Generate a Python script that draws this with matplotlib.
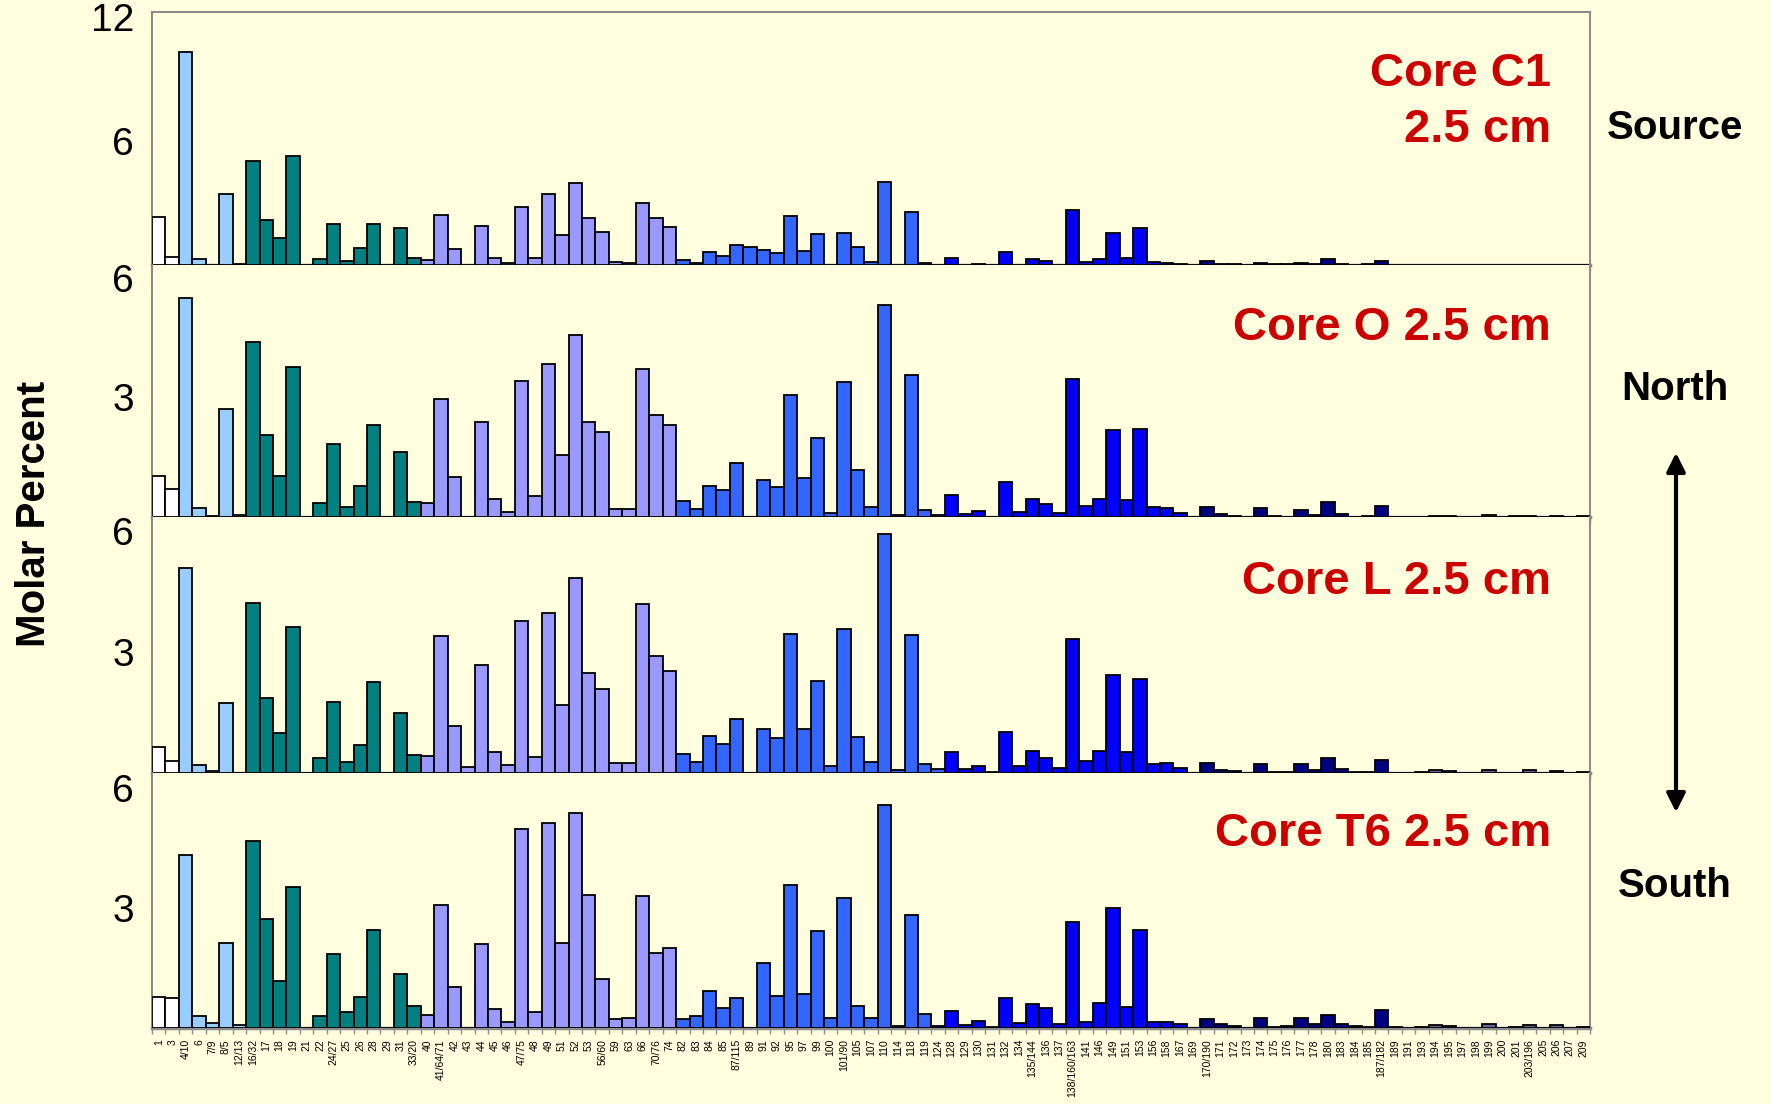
import numpy as np
import matplotlib
matplotlib.use("Agg")
import matplotlib.pyplot as plt
from matplotlib.patches import FancyArrowPatch

plt.rcParams["font.family"] = ["Liberation Sans", "DejaVu Sans"]

W, H = 1771, 1104
BG = "#FFFFE0"

congeners = [
    "1", "3",
    "4/10", "6", "7/9", "8/5", "12/13",
    "16/32", "17", "18", "19", "21", "22", "24/27", "25", "26", "28", "29", "31", "33/20",
    "40", "41/64/71", "42", "43", "44", "45", "46", "47/75", "48", "49", "51", "52", "53",
    "56/60", "59", "63", "66", "70/76", "74",
    "82", "83", "84", "85", "87/115", "89", "91", "92", "95", "97", "99", "100", "101/90",
    "105", "107", "110", "114", "118", "119", "124",
    "128", "129", "130", "131", "132", "134", "135/144", "136", "137", "138/160/163",
    "141", "146", "149", "151", "153", "156", "158", "167", "169",
    "170/190", "171", "172", "173", "174", "175", "176", "177", "178", "180", "183",
    "184", "185", "187/182", "189", "191", "193",
    "194", "195", "197", "198", "199", "200", "201", "203/196", "205",
    "206", "207",
    "209",
]

# number of congeners in each homolog group (mono ... deca) and their fills
homolog_sizes = [2, 5, 13, 19, 20, 19, 17, 9, 2, 1]
homolog_colors = ["#FFFFFF", "#99CCFF", "#008080", "#9999FF", "#3366FF",
                  "#0000FF", "#000080", "#666699", "#666699", "#000080"]

core_c1 = [
    2.34, 0.37,
    10.3, 0.29, 0.0, 3.42, 0.03,
    5.03, 2.19, 1.31, 5.25, 0.0, 0.31, 2.0, 0.2, 0.84, 2.0, 0.0, 1.81, 0.36,
    0.24, 2.42, 0.78, 0.0, 1.89, 0.36, 0.08, 2.8, 0.33, 3.45, 1.47, 3.95, 2.25, 1.58,
    0.14, 0.11, 2.98, 2.25, 1.86,
    0.26, 0.1, 0.63, 0.45, 0.95, 0.87, 0.72, 0.58, 2.39, 0.69, 1.5, 0.0, 1.56, 0.87,
    0.13, 4.02, 0.0, 2.56, 0.08, 0.0,
    0.34, 0.0, 0.06, 0.0, 0.64, 0.0, 0.31, 0.19, 0.0, 2.64, 0.14, 0.31, 1.53, 0.33,
    1.77, 0.14, 0.1, 0.03, 0.0,
    0.2, 0.03, 0.03, 0.02, 0.1, 0.03, 0.03, 0.08, 0.03, 0.28, 0.03, 0.0, 0.03, 0.17,
    0.02, 0.02, 0.02,
    0.02, 0.02, 0.02, 0.0, 0.0, 0.02, 0.02, 0.02, 0.02,
    0.02, 0.02,
    0.02,
]

core_o = [
    1.04, 0.71,
    5.48, 0.23, 0.03, 2.72, 0.04,
    4.39, 2.05, 1.02, 3.77, 0.0, 0.36, 1.83, 0.25, 0.78, 2.31, 0.0, 1.63, 0.38,
    0.35, 2.97, 1.01, 0.0, 2.38, 0.45, 0.13, 3.41, 0.53, 3.84, 1.56, 4.57, 2.39, 2.13,
    0.19, 0.2, 3.71, 2.55, 2.3,
    0.41, 0.2, 0.79, 0.67, 1.35, 0.0, 0.94, 0.74, 3.06, 0.98, 1.97, 0.09, 3.38, 1.19,
    0.25, 5.31, 0.04, 3.55, 0.18, 0.04,
    0.54, 0.08, 0.15, 0.0, 0.89, 0.12, 0.46, 0.32, 0.11, 3.47, 0.27, 0.46, 2.17, 0.42,
    2.2, 0.24, 0.22, 0.11, 0.0,
    0.26, 0.07, 0.02, 0.0, 0.23, 0.02, 0.01, 0.17, 0.04, 0.37, 0.08, 0.0, 0.02, 0.28,
    0.01, 0.01, 0.01,
    0.03, 0.02, 0.0, 0.0, 0.04, 0.01, 0.02, 0.03, 0.01,
    0.02, 0.01,
    0.02,
]

core_l = [
    0.65, 0.29,
    5.08, 0.2, 0.05, 1.74, 0.0,
    4.22, 1.85, 0.98, 3.63, 0.0, 0.38, 1.75, 0.28, 0.69, 2.26, 0.0, 1.48, 0.45,
    0.42, 3.39, 1.16, 0.15, 2.69, 0.51, 0.2, 3.78, 0.39, 3.98, 1.69, 4.84, 2.48, 2.08,
    0.25, 0.25, 4.19, 2.9, 2.53,
    0.47, 0.28, 0.93, 0.72, 1.35, 0.0, 1.08, 0.88, 3.45, 1.08, 2.29, 0.18, 3.58, 0.9,
    0.28, 5.93, 0.07, 3.43, 0.23, 0.09,
    0.51, 0.11, 0.18, 0.03, 1.01, 0.18, 0.54, 0.38, 0.13, 3.32, 0.3, 0.54, 2.43, 0.52,
    2.33, 0.22, 0.25, 0.13, 0.0,
    0.26, 0.08, 0.04, 0.0, 0.23, 0.03, 0.03, 0.22, 0.08, 0.38, 0.11, 0.03, 0.03, 0.33,
    0.0, 0.0, 0.03,
    0.08, 0.04, 0.0, 0.0, 0.08, 0.0, 0.0, 0.07, 0.0,
    0.04, 0.0,
    0.02,
]

core_t6 = [
    0.78, 0.76,
    4.33, 0.31, 0.12, 2.13, 0.08,
    4.68, 2.73, 1.18, 3.53, 0.0, 0.3, 1.86, 0.41, 0.78, 2.45, 0.0, 1.36, 0.55,
    0.33, 3.08, 1.03, 0.0, 2.1, 0.48, 0.15, 4.98, 0.41, 5.13, 2.13, 5.36, 3.33, 1.23,
    0.23, 0.24, 3.3, 1.88, 2.0,
    0.23, 0.29, 0.93, 0.5, 0.76, 0.0, 1.63, 0.8, 3.58, 0.86, 2.43, 0.25, 3.25, 0.55,
    0.26, 5.56, 0.04, 2.83, 0.34, 0.06,
    0.43, 0.08, 0.17, 0.03, 0.75, 0.13, 0.6, 0.5, 0.09, 2.65, 0.16, 0.62, 2.99, 0.53,
    2.46, 0.16, 0.16, 0.11, 0.0,
    0.22, 0.1, 0.04, 0.0, 0.25, 0.03, 0.04, 0.24, 0.1, 0.33, 0.11, 0.04, 0.03, 0.46,
    0.03, 0.0, 0.03,
    0.08, 0.04, 0.0, 0.0, 0.11, 0.0, 0.03, 0.08, 0.0,
    0.07, 0.0,
    0.03,
]

panel_values = [core_c1, core_o, core_l, core_t6]
panel_titles = ["Core C1\n2.5 cm", "Core O 2.5 cm", "Core L 2.5 cm", "Core T6 2.5 cm"]
panel_ymax = [12.24, 6.32, 6.35, 6.37]
panel_ticks = [[6, 12], [3, 6], [3, 6], [3, 6]]

# panel frames in pixels (top, bottom) and title centre y
panel_px = [(12, 265), (265, 517), (517, 773), (773, 1028)]
title_y = [102, 328, 582, 834]
LEFT, RIGHT = 152, 1590

bar_colors = []
for size, col in zip(homolog_sizes, homolog_colors):
    bar_colors += [col] * size

fig = plt.figure(figsize=(W / 100, H / 100), dpi=100, facecolor=BG)
x = np.arange(len(congeners))

for k, vals in enumerate(panel_values):
    top, bot = panel_px[k]
    ax = fig.add_axes([LEFT / W, 1 - bot / H, (RIGHT - LEFT) / W, (bot - top) / H],
                      facecolor=BG)
    ax.bar(x, vals, width=1.0, color=bar_colors, edgecolor="black",
           linewidth=1.3, zorder=3)
    ax.set_xlim(-0.5, len(congeners) - 0.5)
    ax.set_ylim(0, panel_ymax[k])

    for side in ["left", "right", "top"]:
        ax.spines[side].set_color("#8c8c8c")
        ax.spines[side].set_linewidth(1.5)
    ax.spines["top"].set_visible(k == 0)
    ax.spines["bottom"].set_color("#8c8c8c")
    ax.spines["bottom"].set_linewidth(2.5)
    ax.spines["bottom"].set_zorder(2)

    ax.set_yticks(panel_ticks[k])
    ax.set_yticklabels([str(t) for t in panel_ticks[k]], fontsize=28)
    ax.tick_params(axis="y", length=0, pad=13)

    ax.set_xticks(x)
    ax.set_xticks(np.arange(len(congeners) + 1) - 0.5, minor=True)
    ax.tick_params(axis="x", which="minor", length=4, width=1, color="#8c8c8c")
    if k == len(panel_values) - 1:
        ax.set_xticklabels(congeners, rotation=90, fontsize=7.5, va="top")
        ax.tick_params(axis="x", which="major", length=0, pad=8)
    else:
        ax.tick_params(axis="x", which="major", length=0, labelbottom=False)

    fig.text(1551 / W, 1 - title_y[k] / H, panel_titles[k], ha="right", va="center",
             multialignment="right", color="#CC0000", fontsize=34, fontweight="bold",
             linespacing=1.35)

fig.text(34 / W, 1 - 514 / H, "Molar Percent", rotation=90, ha="center", va="center",
         fontsize=29, fontweight="bold")
fig.text(1675 / W, 1 - 128 / H, "Source", ha="center", va="center",
         fontsize=29, fontweight="bold")
fig.text(1675 / W, 1 - 389 / H, "North", ha="center", va="center",
         fontsize=29, fontweight="bold")
fig.text(1675 / W, 1 - 886 / H, "South", ha="center", va="center",
         fontsize=29, fontweight="bold")

arrow = FancyArrowPatch((1676 / W, 1 - 450 / H), (1676 / W, 1 - 815 / H),
                        transform=fig.transFigure, arrowstyle="<|-|>",
                        mutation_scale=28, linewidth=3, color="black")
fig.add_artist(arrow)

fig.savefig("out.png", dpi=100, facecolor=fig.get_facecolor())
